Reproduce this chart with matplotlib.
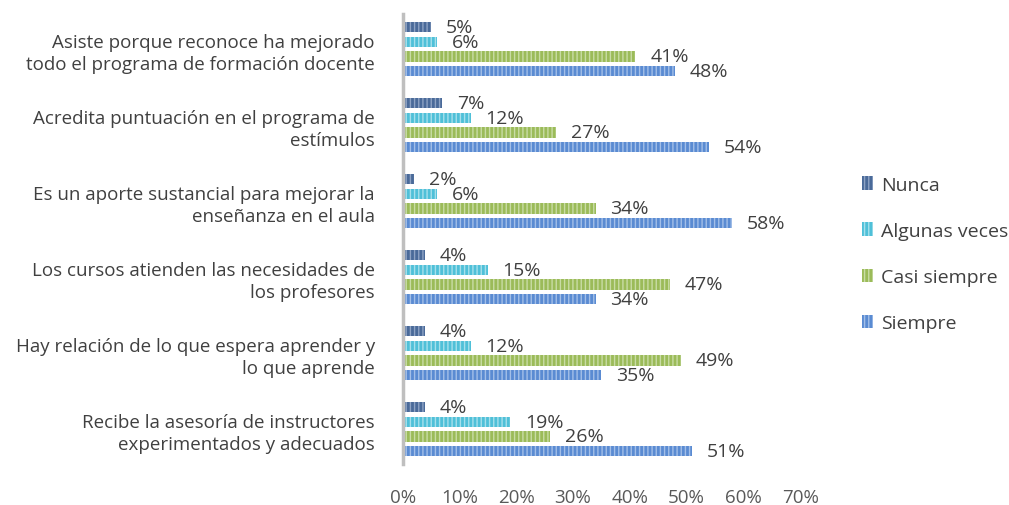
import matplotlib.pyplot as plt
import numpy as np

plt.rcParams['font.family'] = ['Open Sans', 'DejaVu Sans']
plt.rcParams['hatch.linewidth'] = 1.0

categorias = [
    "Asiste porque reconoce ha mejorado\ntodo el programa de formación docente",
    "Acredita puntuación en el programa de\nestímulos",
    "Es un aporte sustancial para mejorar la\nenseñanza en el aula",
    "Los cursos atienden las necesidades de\nlos profesores",
    "Hay relación de lo que espera aprender y\nlo que aprende",
    "Recibe la asesoría de instructores\nexperimentados y adecuados",
]
series = ["Nunca", "Algunas veces", "Casi siempre", "Siempre"]
nunca = [5, 7, 2, 4, 4, 4]
algunas = [6, 12, 6, 15, 12, 19]
casi = [41, 27, 34, 47, 49, 26]
siempre = [48, 54, 58, 34, 35, 51]

colores = ["#4a6a99", "#4fc0d8", "#9bbb59", "#5a8bd2"]
rayas = ["#8ea3c4", "#a6e0ec", "#c9dca6", "#a3bfe8"]

fig = plt.figure(figsize=(10.09, 5.06), dpi=100)
ax = fig.add_axes([0.399, 0.081, 0.394, 0.889])

y = np.arange(len(categorias))
paso = 0.193
alto = 0.135
for i, vals in enumerate([nunca, algunas, casi, siempre]):
    pos = y + (i - 1.5) * paso
    ax.barh(pos, vals, height=alto, color=colores[i], edgecolor=rayas[i],
            linewidth=0, hatch='||||', label=series[i])
    for p, v in zip(pos, vals):
        ax.text(v + 2.6, p, f"{v}%", va='center', ha='left',
                fontsize=14, color='#404040')

ax.set_xlim(0, 70)
ax.set_ylim(len(categorias) - 0.54, -0.46)
ax.set_xticks(range(0, 71, 10))
ax.set_xticklabels([f"{t}%" for t in range(0, 71, 10)])
ax.set_yticks(y)
ax.set_yticklabels(categorias, fontsize=13.5, color='#404040', linespacing=1.3)
ax.tick_params(axis='x', length=0, pad=17, labelsize=13.5, labelcolor='#595959')
ax.tick_params(axis='y', length=0, pad=20)
for s in ['top', 'right', 'bottom']:
    ax.spines[s].set_visible(False)
ax.spines['left'].set_color('#bfbfbf')
ax.spines['left'].set_linewidth(2.5)

fig.legend(loc='center left', bbox_to_anchor=(0.854, 0.496), frameon=False,
           fontsize=14, labelcolor='#404040', handlelength=0.6, handleheight=0.7,
           handletextpad=0.4, labelspacing=1.45, borderaxespad=0, borderpad=0)

plt.savefig('out.png')
